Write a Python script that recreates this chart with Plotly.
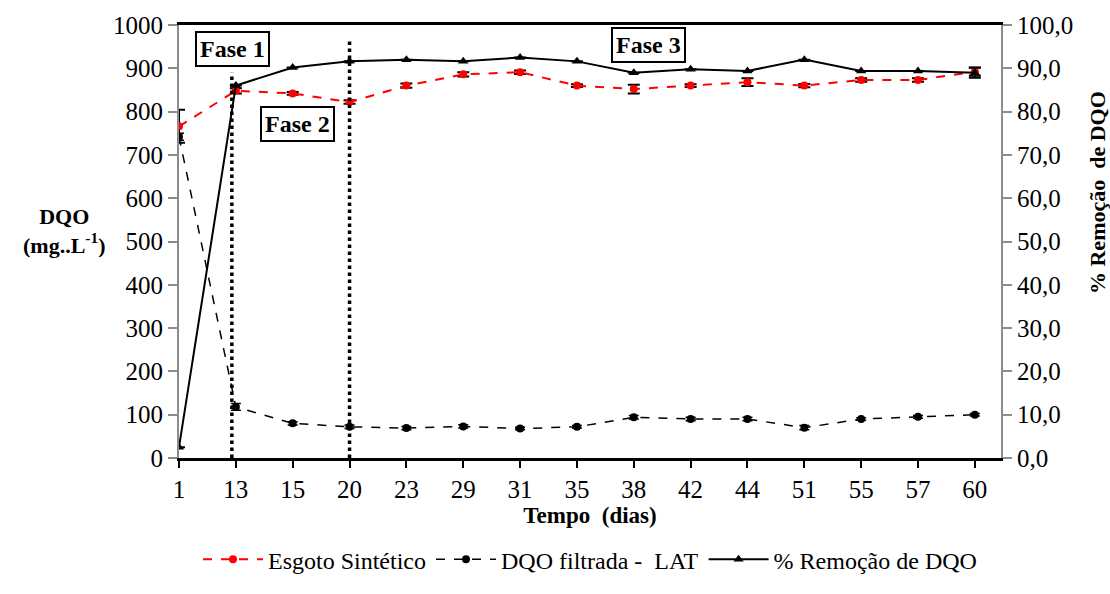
import plotly.graph_objects as go

dias = ["1", "13", "15", "20", "23", "29", "31", "35", "38", "42", "44", "51", "55", "57", "60"]
esgoto = [766, 848, 842, 822, 860, 886, 891, 860, 852, 860, 868, 860, 873, 873, 892]
esgoto_err = [38, 6, 3, 4, 5, 5, 4, 3, 10, 3, 9, 4, 4, 4, 9]
filtrada = [742, 118, 80, 72, 69, 73, 68, 72, 94, 90, 90, 70, 90, 95, 100]
filtrada_err = [8, 8, 4, 4, 4, 4, 3, 3, 4, 4, 4, 5, 3, 3, 3]
remocao = [2.5, 86.0, 90.2, 91.6, 92.0, 91.6, 92.5, 91.6, 89.0, 89.8, 89.4, 92.0, 89.4, 89.4, 89.0]
remocao_err = [0, 0, 0, 0, 0, 0, 0, 0, 0, 0, 0, 0, 0, 0, 1.2]

left_ticks = list(range(0, 1001, 100))
right_ticks = list(range(0, 101, 10))
right_labels = [f"{v},0" for v in right_ticks]

# phase separators (category index, top in mg/L)
fase_lines = [(0.93, 890), (3.0, 965)]

FONT = "'Times New Roman', 'Liberation Serif', 'DejaVu Serif', serif"
xi = list(range(len(dias)))

fig = go.Figure()
fig.add_trace(go.Scatter(
    x=xi, y=esgoto, name="Esgoto Sintético", mode="lines+markers",
    line=dict(color="#ff0000", width=2, dash="dash"),
    marker=dict(symbol="circle", size=8, color="#ff0000"),
    error_y=dict(type="data", array=esgoto_err, color="black", thickness=2, width=6),
))
fig.add_trace(go.Scatter(
    x=xi, y=filtrada, name="DQO filtrada -  LAT", mode="lines+markers",
    line=dict(color="black", width=1.5, dash="dash"),
    marker=dict(symbol="circle", size=8, color="black"),
    error_y=dict(type="data", array=filtrada_err, color="black", thickness=1.5, width=5),
))
fig.add_trace(go.Scatter(
    x=xi, y=remocao, name="% Remoção de DQO", mode="lines+markers", yaxis="y2",
    line=dict(color="black", width=2),
    marker=dict(symbol="triangle-up", size=9, color="black"),
    error_y=dict(type="data", array=remocao_err, color="black", thickness=2, width=6),
))

for xpos, top in fase_lines:
    fig.add_shape(type="line", xref="x", yref="y", x0=xpos, x1=xpos, y0=0, y1=top,
                  line=dict(color="black", width=3.5, dash="dot"))

box_font = dict(family=FONT, size=24, color="black")
for text, x, y in [("<b>Fase 1</b>", 232, 50), ("<b>Fase 2</b>", 297, 128), ("<b>Fase 3</b>", 648, 46)]:
    fig.add_annotation(text=text, xref="paper", yref="paper",
                       x=(x - 179) / (1001 - 179), y=(476 - y) / 451,
                       showarrow=False, font=box_font, bordercolor="black", borderwidth=2,
                       borderpad=3, bgcolor="white", xanchor="center", yanchor="middle")

fig.add_annotation(text="<b>DQO</b><br><b>(mg..L<sup>-1</sup>)</b>", xref="paper", yref="paper",
                   x=(64 - 179) / 822, y=(476 - 240) / 451, showarrow=False,
                   font=dict(family=FONT, size=22, color="black"), xanchor="center", yanchor="middle")
fig.add_annotation(text="<b>% Remoção  de DQO</b>", xref="paper", yref="paper",
                   x=(1097 - 179) / 822, y=(476 - 200) / 451, showarrow=False, textangle=-90,
                   font=dict(family=FONT, size=22, color="black"), xanchor="center", yanchor="middle")

fig.update_layout(
    width=1110, height=594,
    margin=dict(l=179, r=109, t=25, b=118),
    paper_bgcolor="white", plot_bgcolor="white",
    font=dict(family=FONT, size=25, color="black"),
    showlegend=True,
    legend=dict(orientation="h", x=0.5, xanchor="center", y=-0.235, yanchor="middle",
                font=dict(family=FONT, size=24, color="black"), itemwidth=60,
                traceorder="normal"),
    xaxis=dict(range=[0, 14.46], tickmode="array", tickvals=xi, ticktext=dias,
               showgrid=False, zeroline=False, showline=True, linecolor="black", linewidth=2.5,
               mirror=True, ticks="outside", ticklen=7, tickwidth=2, tickcolor="black",
               tickfont=dict(family=FONT, size=25),
               title=dict(text="<b>Tempo  (dias)</b>", font=dict(family=FONT, size=23), standoff=4)),
    yaxis=dict(range=[0, 1000], tickvals=left_ticks, showgrid=False, zeroline=False,
               showline=True, linecolor="#8c8c8c", linewidth=2, ticks="outside", ticklen=9,
               tickcolor="#8c8c8c", tickwidth=2, tickfont=dict(family=FONT, size=25)),
    yaxis2=dict(range=[0, 100], tickvals=right_ticks, ticktext=right_labels, overlaying="y",
                side="right", showgrid=False, zeroline=False, showline=True, linecolor="#8c8c8c",
                linewidth=2, ticks="outside", ticklen=9, tickcolor="#8c8c8c", tickwidth=2,
                tickfont=dict(family=FONT, size=25)),
)

fig.write_html("out.html")
